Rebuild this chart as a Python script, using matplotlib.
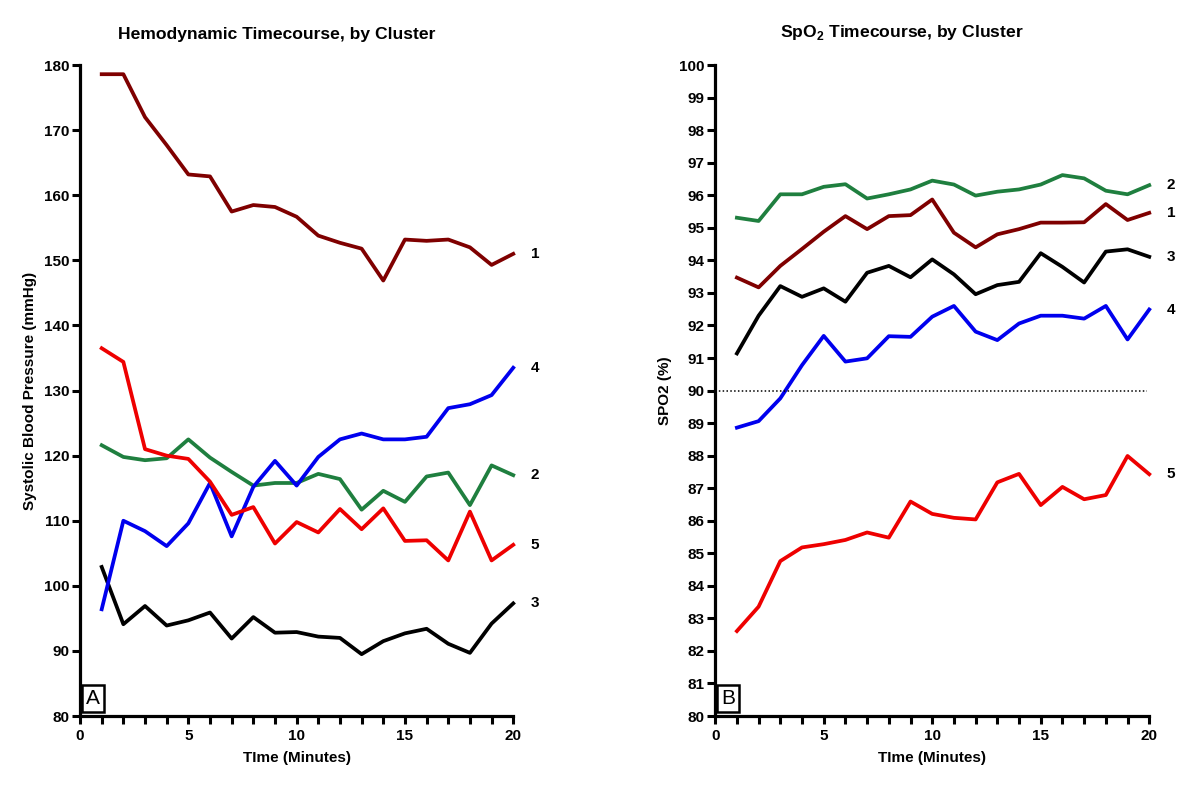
import matplotlib
matplotlib.use("Agg")
import matplotlib.pyplot as plt
from matplotlib.ticker import MultipleLocator

plt.rcParams["font.family"] = ["Liberation Sans", "DejaVu Sans"]
plt.rcParams["font.weight"] = "bold"
plt.rcParams["mathtext.fontset"] = "custom"
plt.rcParams["mathtext.bf"] = "Liberation Sans:bold"
plt.rcParams["mathtext.rm"] = "Liberation Sans:bold"

minutes = list(range(1, 21))
clusters = ["1", "2", "3", "4", "5"]
colors = ["#7f0000", "#1f7f3f", "#000000", "#0000ee", "#ee0000"]

# systolic blood pressure (mmHg) by cluster
sbp = {
    "1": [178.6, 178.6, 172.0, 167.7, 163.2, 162.9, 157.5, 158.5, 158.2, 156.7,
          153.8, 152.7, 151.8, 146.9, 153.2, 153.0, 153.2, 152.0, 149.3, 151.0],
    "2": [121.6, 119.8, 119.3, 119.6, 122.5, 119.7, 117.5, 115.4, 115.8, 115.8,
          117.2, 116.4, 111.7, 114.6, 112.9, 116.8, 117.4, 112.4, 118.5, 117.0],
    "3": [102.9, 94.1, 96.9, 93.9, 94.7, 95.9, 91.9, 95.2, 92.8, 92.9,
          92.2, 92.0, 89.5, 91.5, 92.7, 93.4, 91.1, 89.7, 94.2, 97.3],
    "4": [96.4, 110.0, 108.4, 106.1, 109.6, 115.8, 107.6, 115.2, 119.2, 115.4,
          119.8, 122.5, 123.4, 122.5, 122.5, 122.9, 127.3, 127.9, 129.3, 133.5],
    "5": [136.5, 134.4, 121.0, 120.0, 119.5, 116.0, 110.9, 112.1, 106.5, 109.8,
          108.2, 111.8, 108.7, 111.9, 106.9, 107.0, 103.9, 111.4, 103.9, 106.3],
}

# SpO2 (%) by cluster
spo2 = {
    "1": [93.47, 93.17, 93.83, 94.35, 94.88, 95.36, 94.96, 95.36, 95.39, 95.87,
          94.85, 94.40, 94.80, 94.96, 95.16, 95.16, 95.17, 95.73, 95.24, 95.46],
    "2": [95.31, 95.21, 96.03, 96.03, 96.26, 96.34, 95.90, 96.03, 96.18, 96.45,
          96.33, 95.99, 96.11, 96.18, 96.33, 96.62, 96.52, 96.14, 96.03, 96.31],
    "3": [91.14, 92.30, 93.21, 92.88, 93.14, 92.73, 93.62, 93.83, 93.48, 94.03,
          93.57, 92.96, 93.24, 93.34, 94.22, 93.80, 93.32, 94.27, 94.34, 94.11],
    "4": [88.86, 89.06, 89.76, 90.78, 91.68, 90.89, 90.99, 91.67, 91.65, 92.27,
          92.60, 91.81, 91.55, 92.06, 92.30, 92.30, 92.21, 92.60, 91.57, 92.49],
    "5": [82.61, 83.36, 84.76, 85.18, 85.28, 85.41, 85.64, 85.48, 86.59, 86.21,
          86.09, 86.04, 87.18, 87.44, 86.48, 87.04, 86.66, 86.79, 87.99, 87.43],
}


def style_axes(ax, ymin, ymax, ystep):
    ax.set_xlim(0, 20)
    ax.set_ylim(ymin, ymax)
    for side in ["top", "right"]:
        ax.spines[side].set_visible(False)
    for side in ["left", "bottom"]:
        ax.spines[side].set_linewidth(2.3)
    ax.xaxis.set_major_locator(MultipleLocator(5))
    ax.xaxis.set_minor_locator(MultipleLocator(1))
    ax.yaxis.set_major_locator(MultipleLocator(ystep))
    ax.tick_params(which="both", direction="out", length=6, width=2.2,
                   labelsize=11, pad=3)
    ax.tick_params(axis="y", pad=1.5)
    ax.set_xlabel("TIme (Minutes)", fontsize=11, fontweight="bold", labelpad=6)


fig = plt.figure(figsize=(12, 7.89), dpi=100)
ax1 = fig.add_axes([0.0667, 0.0925, 0.361, 0.825])
ax2 = fig.add_axes([0.596, 0.0925, 0.3617, 0.825])

for name, c in zip(clusters, colors):
    ax1.plot(minutes, sbp[name], color=c, lw=2.7, clip_on=False)
    ax1.text(21, sbp[name][-1], name, ha="center", va="center",
             fontsize=11, fontweight="bold")
    ax2.plot(minutes, spo2[name], color=c, lw=2.7, clip_on=False)
    ax2.text(21, spo2[name][-1], name, ha="center", va="center",
             fontsize=11, fontweight="bold")

style_axes(ax1, 80, 180, 10)
style_axes(ax2, 80, 100, 1)
ax2.axhline(90, xmin=0, xmax=0.995, color="black", lw=1.1, ls=(0, (1, 1.5)))

ax1.set_ylabel("Systolic Blood Pressure (mmHg)", fontsize=11,
               fontweight="bold", labelpad=5)
ax2.set_ylabel("SPO2 (%)", fontsize=11, fontweight="bold", labelpad=5)

ax1.text(0.453, 1.035, "Hemodynamic Timecourse, by Cluster", transform=ax1.transAxes,
         ha="center", va="bottom", fontsize=12.6, fontweight="bold")
ax2.text(0.429, 1.035, r"SpO$_\mathbf{2}$ Timecourse, by Cluster",
         transform=ax2.transAxes, ha="center", va="bottom", fontsize=12.6,
         fontweight="bold")

for ax, letter in [(ax1, "A"), (ax2, "B")]:
    ax.text(0.013, 0.012, letter, transform=ax.transAxes, ha="left", va="bottom",
            fontsize=15, fontweight="normal",
            bbox=dict(boxstyle="square,pad=0.2", fc="white", ec="black", lw=1.8))

fig.savefig("out.png", dpi=100)
